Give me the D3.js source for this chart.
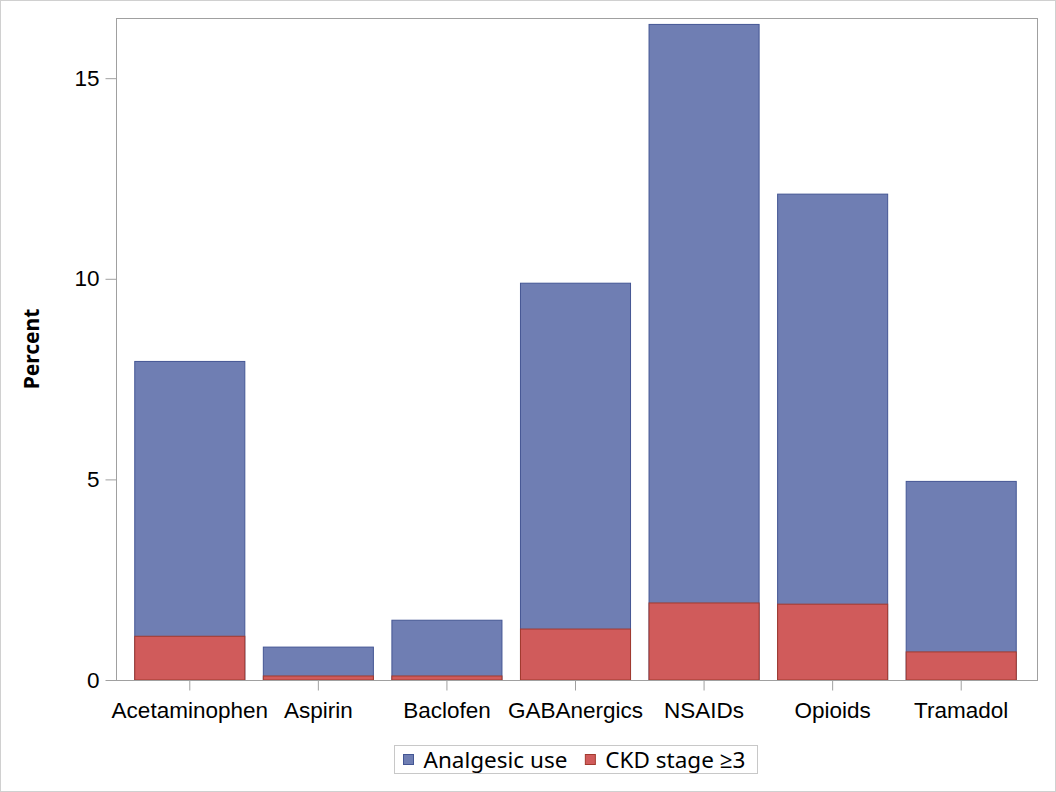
<!DOCTYPE html>
<html>
<head>
<meta charset="utf-8">
<script src="https://cdn.jsdelivr.net/npm/d3@7"></script>
<style>
  body { margin: 0; background: #fff; }
  svg { display: block; font-family: "Noto Sans", "Open Sans", sans-serif; }
  .axis text { fill: #000; font-size: 22.5px; }
  .axis path, .axis line { stroke: #a0a0a0; }
</style>
</head>
<body>
<svg class="chart"></svg>
<script>
// DATA
const drugs = ['Acetaminophen', 'Aspirin', 'Baclofen', 'GABAnergics', 'NSAIDs', 'Opioids', 'Tramadol'];
const analgesicUse = [7.94, 0.82, 1.49, 9.89, 16.34, 12.11, 4.95];
const ckdStage3 = [1.09, 0.10, 0.10, 1.27, 1.92, 1.89, 0.70];
const yTicks = [0, 5, 10, 15];
const seriesNames = ['Analgesic use', 'CKD stage ≥3'];

const size = {w: 1056, h: 792};
const plot = {left: 116, top: 18, right: 1037, bottom: 680};
const colors = [
  {fill: '#6F7EB3', stroke: '#445694'},
  {fill: '#D05B5B', stroke: '#A23A2E'}
];

const svg = d3.select('svg.chart')
  .attr('width', size.w)
  .attr('height', size.h);

// outer border
svg.append('rect')
  .attr('x', 0.5).attr('y', 0.5)
  .attr('width', size.w - 1).attr('height', size.h - 1)
  .attr('fill', 'none').attr('stroke', '#d0d0d0');

// SCALES
const x = d3.scaleBand()
  .domain(drugs)
  .range([plot.left + 9.5, plot.right - 11.5])
  .paddingInner(0.144)
  .paddingOuter(0.072);

const y = d3.scaleLinear()
  .domain([0, 16.5])
  .range([plot.bottom, plot.top]);

// BARS
const groups = [analgesicUse, ckdStage3];
groups.forEach((vals, i) => {
  svg.append('g')
    .selectAll('rect')
    .data(drugs)
    .enter()
    .append('rect')
    .attr('x', (d) => x(d))
    .attr('y', (d, j) => y(vals[j]))
    .attr('width', x.bandwidth())
    .attr('height', (d, j) => plot.bottom - y(vals[j]))
    .attr('fill', colors[i].fill)
    .attr('stroke', colors[i].stroke)
    .attr('stroke-width', 1);
});

// FRAME
svg.append('rect')
  .attr('x', plot.left + 0.5).attr('y', plot.top + 0.5)
  .attr('width', plot.right - plot.left).attr('height', plot.bottom - plot.top)
  .attr('fill', 'none').attr('stroke', '#a0a0a0');

// AXES
svg.append('g')
  .attr('class', 'axis')
  .attr('transform', `translate(0,${plot.bottom + 0.5})`)
  .call(d3.axisBottom(x).tickSize(10).tickPadding(7).tickSizeOuter(0))
  .call(g => g.select('.domain').remove())
  .selectAll('text')
  .attr('dy', '0.9em');

svg.append('g')
  .attr('class', 'axis')
  .attr('transform', `translate(${plot.left + 0.5},0)`)
  .call(d3.axisLeft(y).tickValues(yTicks).tickSize(11).tickPadding(6))
  .call(g => g.select('.domain').remove());

// Y LABEL
svg.append('text')
  .attr('transform', `translate(39,${(plot.top + plot.bottom) / 2}) rotate(-90)`)
  .attr('text-anchor', 'middle')
  .style('font-size', '21px')
  .style('font-weight', 'bold')
  .text('Percent');

// LEGEND
const legend = svg.append('g').attr('transform', 'translate(394.5,745.5)');
legend.append('rect')
  .attr('width', 363).attr('height', 28)
  .attr('fill', 'none').attr('stroke', '#c8c8c8');

let lx = 9;
seriesNames.forEach((name, i) => {
  legend.append('rect')
    .attr('x', lx).attr('y', 9)
    .attr('width', 10).attr('height', 10)
    .attr('fill', colors[i].fill)
    .attr('stroke', colors[i].stroke);
  const t = legend.append('text')
    .attr('x', lx + 20).attr('y', 22)
    .style('font-size', '22.5px')
    .text(name);
  lx += 20 + t.node().getComputedTextLength() + 18;
});
</script>
</body>
</html>
